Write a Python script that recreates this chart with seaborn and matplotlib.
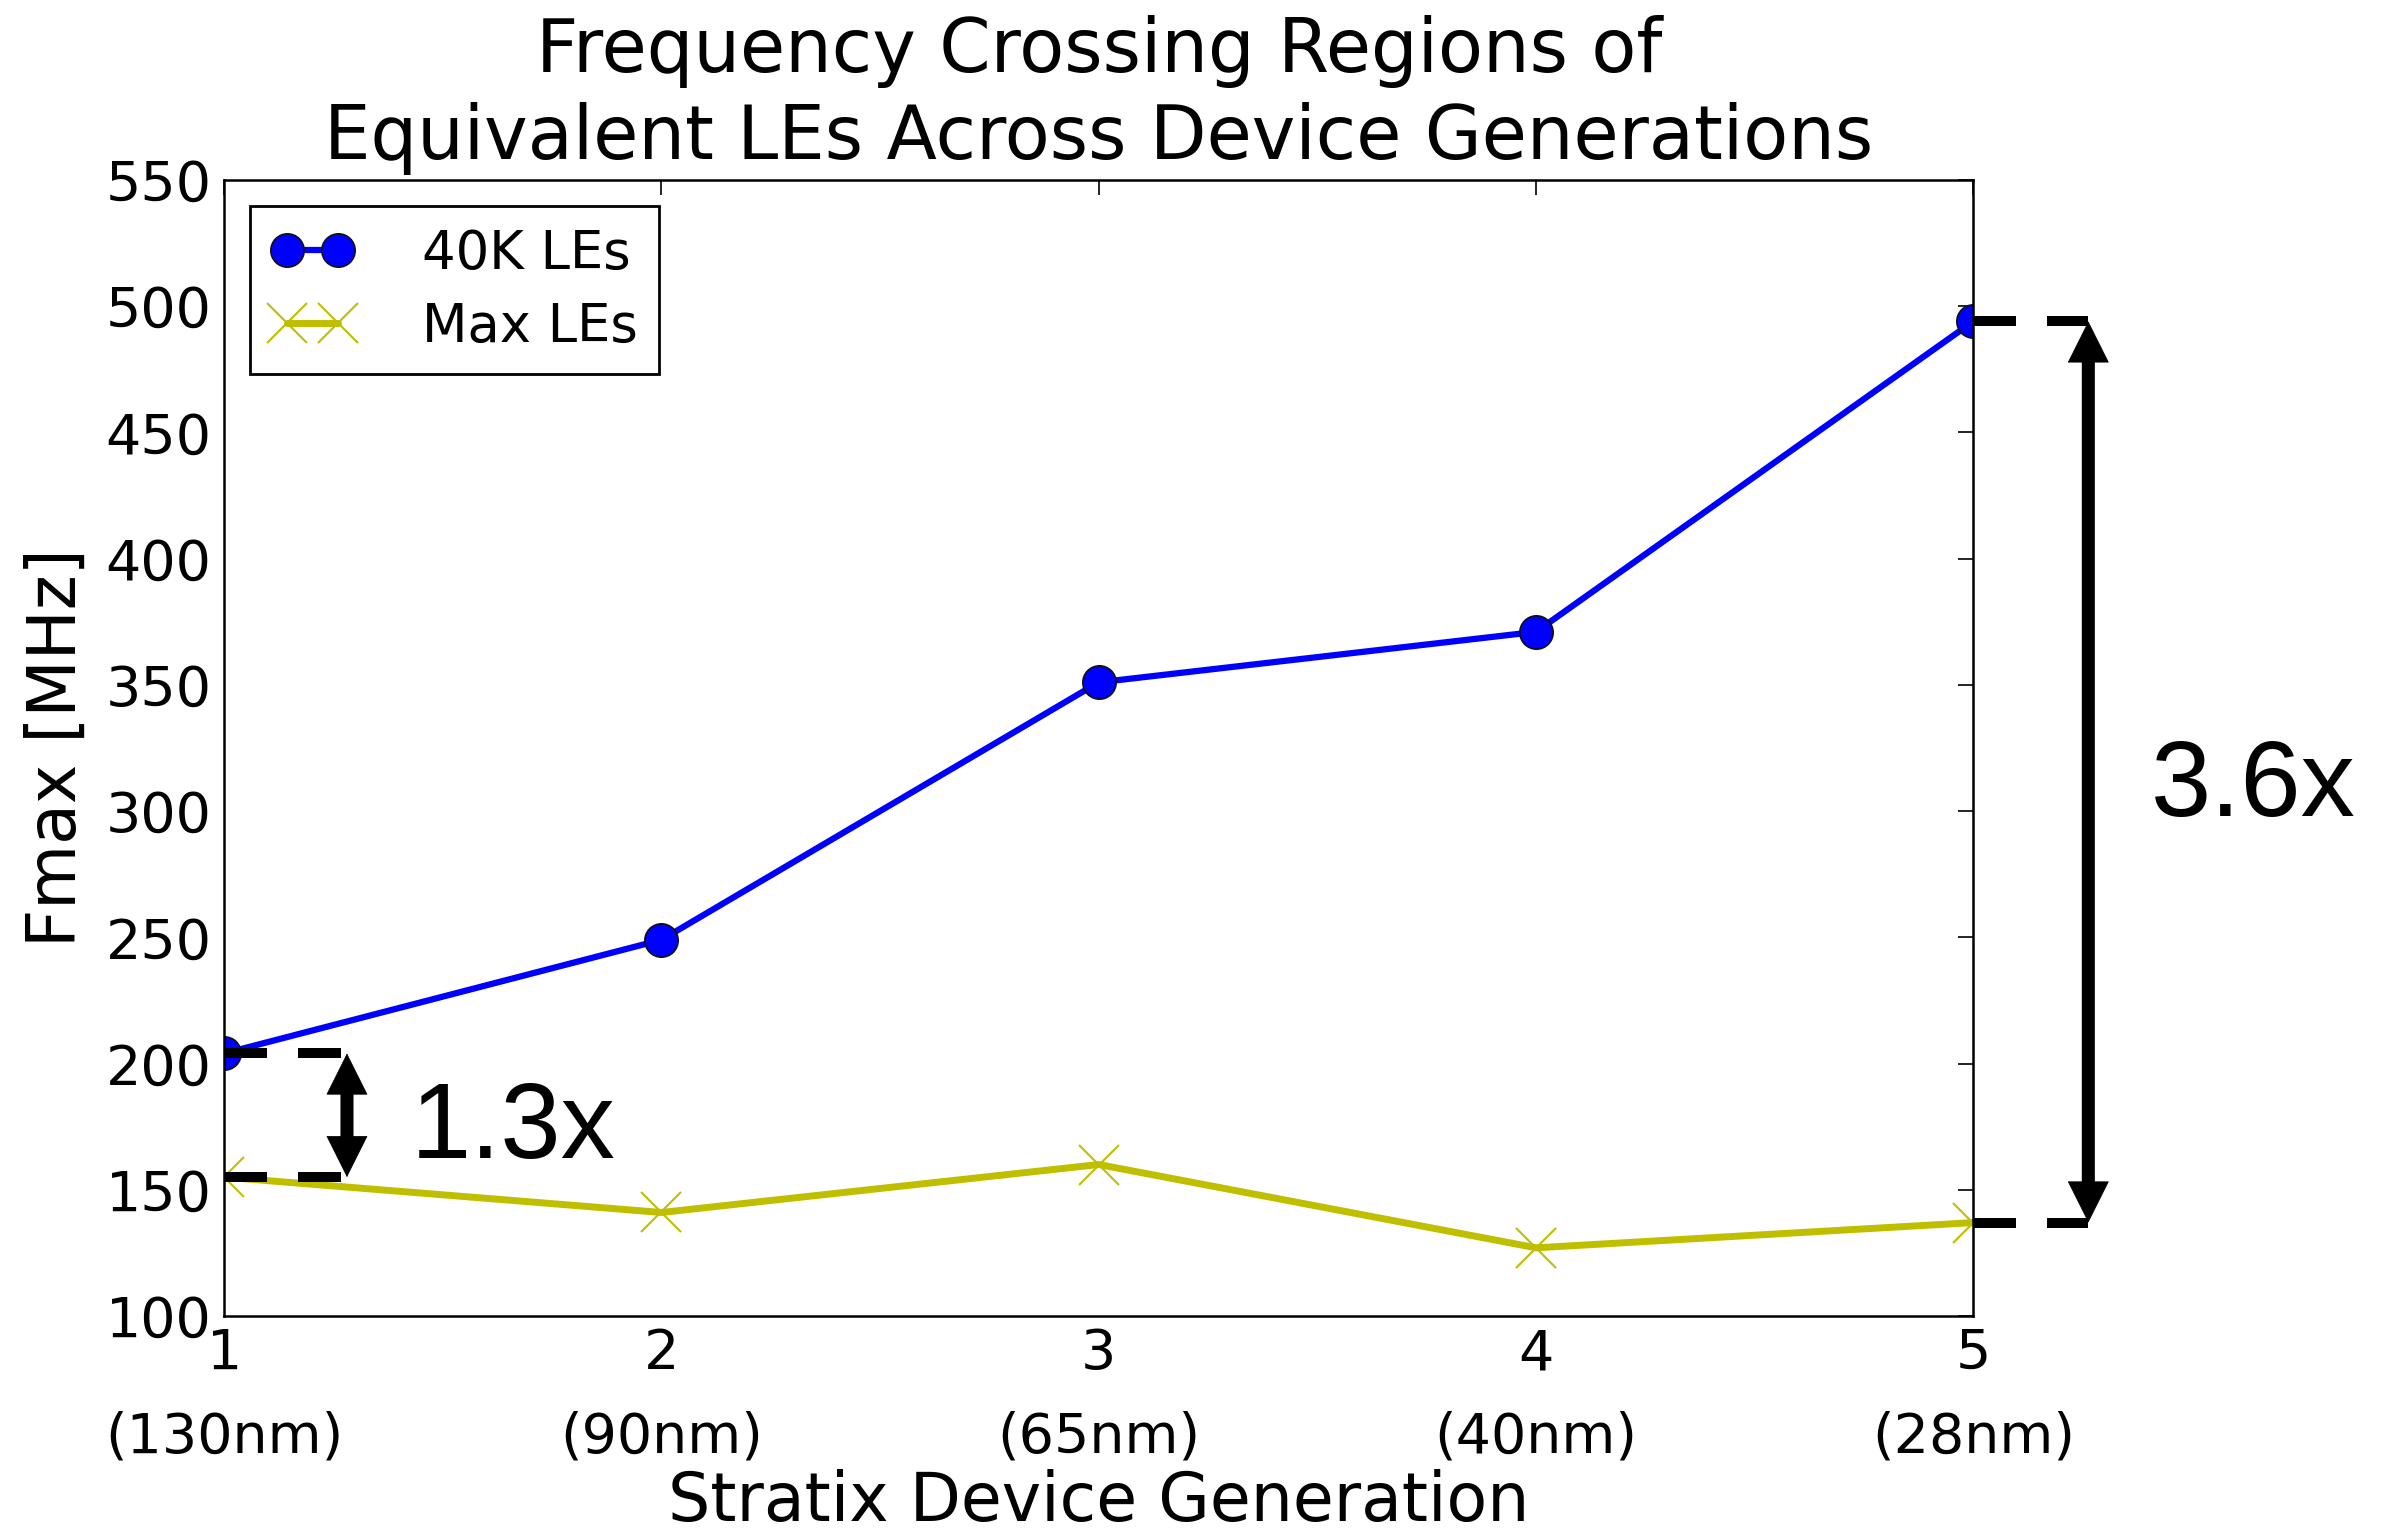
import numpy as np
import pandas as pd
import matplotlib
matplotlib.use("Agg")
import matplotlib.pyplot as plt
import seaborn as sns

# %% ── Data ──────────────────────────────────────────────────────────────────
generations = [1, 2, 3, 4, 5]
nodes = ["130nm", "90nm", "65nm", "40nm", "28nm"]
fmax_40k = [204, 249, 351, 371, 494]   # 40K LEs
fmax_max = [155, 141, 160, 127, 137]   # Max LEs
y_ticks = list(range(100, 551, 50))

df = pd.DataFrame({"gen": generations, "40K LEs": fmax_40k, "Max LEs": fmax_max})

# %% ── Style ─────────────────────────────────────────────────────────────────
sns.set_style("white")
plt.rcParams["font.family"] = ["DejaVu Sans"]
plt.rcParams["text.color"] = "black"
plt.rcParams["axes.labelcolor"] = "black"
plt.rcParams["xtick.color"] = "black"
plt.rcParams["ytick.color"] = "black"
plt.rcParams["axes.edgecolor"] = "black"
plt.rcParams["axes.linewidth"] = 1.8

fig = plt.figure(figsize=(23.89, 15.37), dpi=100)
ax = fig.add_axes([0.0938, 0.1438, 0.826 - 0.0938, 0.8829 - 0.1438])

sns.lineplot(data=df, x="gen", y="40K LEs", ax=ax, color="#0000ff", lw=4.5,
             marker="o", markersize=24, markeredgecolor="#111111",
             markeredgewidth=1.2, label="40K LEs")
sns.lineplot(data=df, x="gen", y="Max LEs", ax=ax, color="#bfbf00", lw=5,
             marker="x", markersize=29, markeredgewidth=1.5,
             markeredgecolor="#bfbf00", label="Max LEs")

ax.set_xlim(generations[0], generations[-1])
ax.set_ylim(y_ticks[0], y_ticks[-1])
ax.set_yticks(y_ticks)
ax.set_xticks(generations)
ax.set_xticklabels([f"{g}\n({n})" for g, n in zip(generations, nodes)],
                   linespacing=1.7)
ax.tick_params(direction="in", top=True, right=True, length=11, width=1.2,
               colors="black", labelsize=40)
ax.tick_params(axis="x", pad=8)
ax.tick_params(axis="y", pad=9)

ax.set_title("Frequency Crossing Regions of\nEquivalent LEs Across Device Generations",
             fontsize=53, pad=15, linespacing=1.25, color="black")
ax.set_xlabel("Stratix Device Generation", fontsize=48)
ax.set_ylabel("Fmax [MHz]", fontsize=48)
ax.xaxis.set_label_coords(0.5, -0.135)
ax.yaxis.set_label_coords(-0.0765, 0.5)

for sp in ax.spines.values():
    sp.set_visible(True)
    sp.set_color("black")
    sp.set_linewidth(1.8)

leg = ax.legend(loc="upper left", fontsize=38, numpoints=2, handlelength=1.55,
                handletextpad=1.3, labelspacing=0.4, borderaxespad=0.5,
                fancybox=False, framealpha=1, edgecolor="black")
leg.get_frame().set_linewidth(2)

# %% ── Ratio brackets ───────────────────────────────────────────────────────
def bracket(x0, x_arrow, top, bot, label, label_xy):
    for yv in (top, bot):
        ax.plot([x0, x_arrow], [yv, yv], color="black", lw=7.2,
                ls=(0, (4.3, 3.1)), clip_on=False, zorder=5)
    ax.annotate("", xy=(x_arrow, top), xytext=(x_arrow, bot),
                arrowprops=dict(arrowstyle="-", lw=9.4, color="black",
                                shrinkA=26, shrinkB=26),
                annotation_clip=False, zorder=5)
    ax.annotate("", xy=(x_arrow, top), xytext=(x_arrow, bot),
                arrowprops=dict(arrowstyle="<|-|>,head_length=0.4,head_width=0.2",
                                mutation_scale=72, lw=0.5, color="black",
                                shrinkA=0, shrinkB=0),
                annotation_clip=False, zorder=5)
    ax.text(*label_xy, label, fontsize=78, family=["Liberation Sans", "DejaVu Sans"],
            ha="center", va="center", clip_on=False, color="black")

bracket(generations[0], 1.281, fmax_40k[0], fmax_max[0], "1.3x", (1.661, 173.5))
bracket(generations[-1], 5.263, fmax_40k[-1], fmax_max[-1], "3.6x", (5.64, 309))

fig.savefig("out.png", dpi=100)
